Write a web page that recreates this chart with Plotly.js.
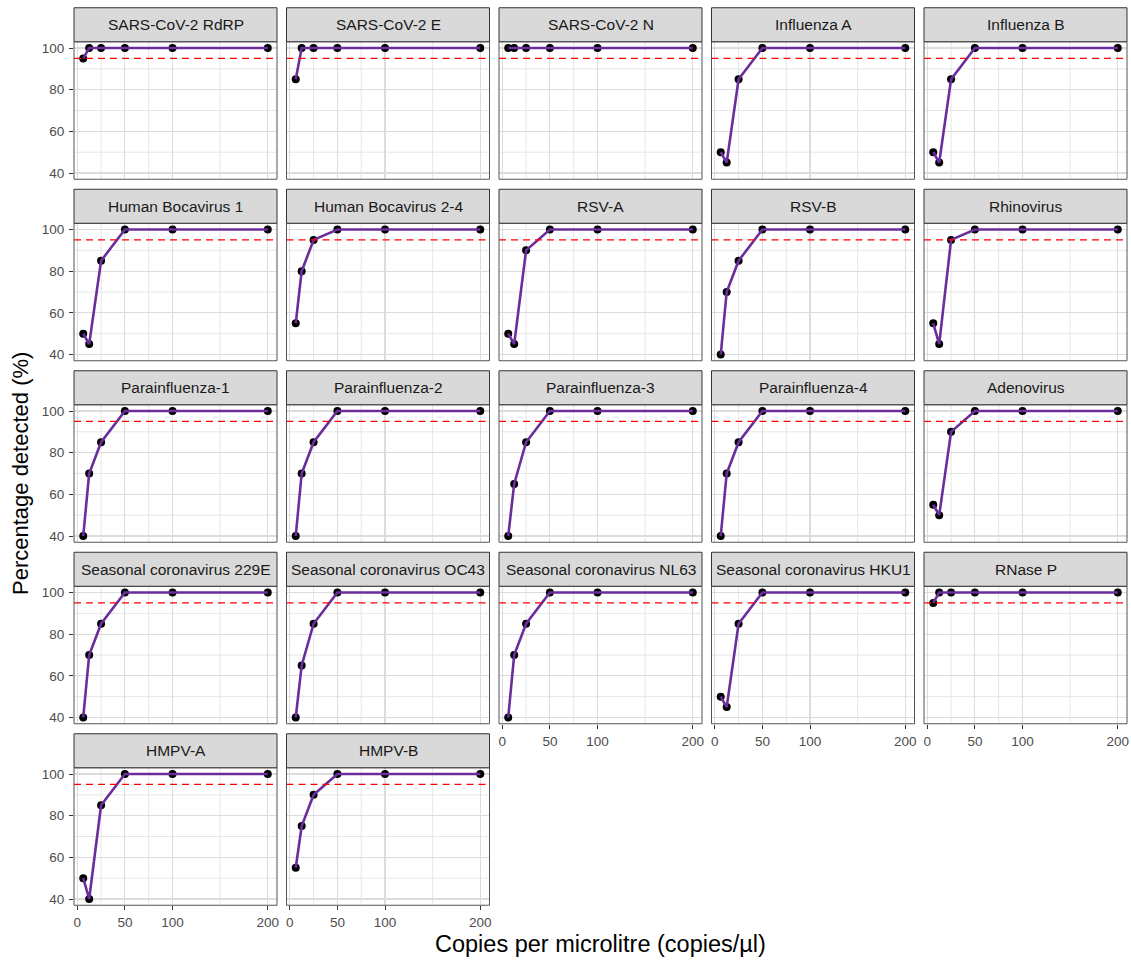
<!DOCTYPE html>
<html>
<head>
<meta charset="utf-8">
<script src="https://cdn.plot.ly/plotly-3.0.1.min.js"></script>
<style>html,body{margin:0;padding:0;background:#fff;}#chart{width:1131px;height:962px;}</style>
</head>
<body>
<div id="chart"></div>
<script>
// ---- data ----
const copies = [6.25, 12.5, 25, 50, 100, 200];
const panelNames = [
  "SARS-CoV-2 RdRP", "SARS-CoV-2 E", "SARS-CoV-2 N", "Influenza A", "Influenza B",
  "Human Bocavirus 1", "Human Bocavirus 2-4", "RSV-A", "RSV-B", "Rhinovirus",
  "Parainfluenza-1", "Parainfluenza-2", "Parainfluenza-3", "Parainfluenza-4", "Adenovirus",
  "Seasonal coronavirus 229E", "Seasonal coronavirus OC43", "Seasonal coronavirus NL63", "Seasonal coronavirus HKU1", "RNase P",
  "HMPV-A", "HMPV-B"
];
const sarsRdRP = [95, 100, 100, 100, 100, 100];
const sarsE    = [85, 100, 100, 100, 100, 100];
const sarsN    = [100, 100, 100, 100, 100, 100];
const fluA     = [50, 45, 85, 100, 100, 100];
const fluB     = [50, 45, 85, 100, 100, 100];
const boca1    = [50, 45, 85, 100, 100, 100];
const boca24   = [55, 80, 95, 100, 100, 100];
const rsvA     = [50, 45, 90, 100, 100, 100];
const rsvB     = [40, 70, 85, 100, 100, 100];
const rhino    = [55, 45, 95, 100, 100, 100];
const para1    = [40, 70, 85, 100, 100, 100];
const para2    = [40, 70, 85, 100, 100, 100];
const para3    = [40, 65, 85, 100, 100, 100];
const para4    = [40, 70, 85, 100, 100, 100];
const adeno    = [55, 50, 90, 100, 100, 100];
const cov229E  = [40, 70, 85, 100, 100, 100];
const covOC43  = [40, 65, 85, 100, 100, 100];
const covNL63  = [40, 70, 85, 100, 100, 100];
const covHKU1  = [50, 45, 85, 100, 100, 100];
const rnaseP   = [95, 100, 100, 100, 100, 100];
const hmpvA    = [50, 40, 85, 100, 100, 100];
const hmpvB    = [55, 75, 90, 100, 100, 100];
const seriesList = [sarsRdRP, sarsE, sarsN, fluA, fluB, boca1, boca24, rsvA, rsvB, rhino,
  para1, para2, para3, para4, adeno, cov229E, covOC43, covNL63, covHKU1, rnaseP, hmpvA, hmpvB];
const threshold = 95;
const xTickVals = [0, 50, 100, 200];
const xMinorVals = [25, 75, 150];
const yTickVals = [40, 60, 80, 100];
const yMinorVals = [50, 70, 90];

// ---- layout geometry (px) ----
const W = 1131, H = 962;
const nCol = 5;
const colLeft0 = 74, colStep = 212.5, panelW = 203;
const rowTop0 = 41.75, rowStep = 181.5, panelH = 137.5, stripH = 34;
const font = "Liberation Sans, Arial, sans-serif";

const traces = [];
const layout = {
  width: W, height: H,
  margin: {l: 0, r: 0, t: 0, b: 0},
  paper_bgcolor: "#fff", plot_bgcolor: "#fff",
  showlegend: false,
  font: {family: font},
  shapes: [], annotations: []
};

const n = panelNames.length;
for (let i = 0; i < n; i++) {
  const r = Math.floor(i / nCol), c = i % nCol;
  const left = colLeft0 + c * colStep;
  const top = rowTop0 + r * rowStep;
  const idx = i === 0 ? "" : String(i + 1);
  const xa = "x" + idx, ya = "y" + idx;
  const hasBelow = (i + nCol) < n;
  const showX = !hasBelow;
  const showY = c === 0;

  layout["xaxis" + idx] = {
    domain: [left / W, (left + panelW) / W],
    anchor: ya,
    range: [-3.4375, 209.6875],
    tickvals: xTickVals,
    ticktext: xTickVals.map(String),
    showticklabels: showX,
    ticks: showX ? "outside" : "",
    ticklen: 4, tickcolor: "#333", tickwidth: 1,
    ticklabelstandoff: 1,
    tickfont: {size: 13.5, color: "#4d4d4d", family: font},
    showgrid: true, gridcolor: "#dcdcdc", gridwidth: 1.1,
    zeroline: false, showline: false, fixedrange: true
  };
  layout["yaxis" + idx] = {
    domain: [1 - (top + panelH) / H, 1 - top / H],
    anchor: xa,
    range: [37, 103],
    tickvals: yTickVals,
    ticktext: yTickVals.map(String),
    showticklabels: showY,
    ticks: showY ? "outside" : "",
    ticklen: 4, tickcolor: "#333", tickwidth: 1,
    ticklabelstandoff: 2,
    tickfont: {size: 13.5, color: "#4d4d4d", family: font},
    showgrid: true, gridcolor: "#dcdcdc", gridwidth: 1.1,
    zeroline: false, showline: false, fixedrange: true
  };

  // minor grid lines
  xMinorVals.forEach(v => layout.shapes.push({
    type: "line", xref: xa, yref: ya + " domain", x0: v, x1: v, y0: 0, y1: 1,
    line: {color: "#e6e6e6", width: 1}, layer: "below"
  }));
  yMinorVals.forEach(v => layout.shapes.push({
    type: "line", xref: xa + " domain", yref: ya, x0: 0, x1: 1, y0: v, y1: v,
    line: {color: "#e6e6e6", width: 1}, layer: "below"
  }));

  traces.push({
    type: "scatter", mode: "markers", xaxis: xa, yaxis: ya,
    x: copies, y: seriesList[i],
    marker: {color: "#000", size: 8}, hoverinfo: "skip"
  });
  traces.push({
    type: "scatter", mode: "lines", xaxis: xa, yaxis: ya,
    x: copies, y: seriesList[i],
    line: {color: "#6b2d9b", width: 2.6}, hoverinfo: "skip"
  });

  // threshold line
  layout.shapes.push({
    type: "line", xref: xa + " domain", yref: ya,
    x0: 0, x1: 1, y0: threshold, y1: threshold,
    line: {color: "#ff0000", width: 1.3, dash: "7px,5px"}, layer: "above"
  });
  // panel border
  layout.shapes.push({
    type: "rect", xref: "paper", yref: "paper",
    x0: left / W, x1: (left + panelW) / W,
    y0: 1 - (top + panelH) / H, y1: 1 - top / H,
    line: {color: "#555", width: 1}, fillcolor: "rgba(0,0,0,0)", layer: "above"
  });
  // strip
  layout.shapes.push({
    type: "rect", xref: "paper", yref: "paper",
    x0: left / W, x1: (left + panelW) / W,
    y0: 1 - top / H, y1: 1 - (top - stripH) / H,
    line: {color: "#333", width: 1}, fillcolor: "#d9d9d9", layer: "above"
  });
  layout.annotations.push({
    xref: "paper", yref: "paper",
    x: (left + panelW / 2) / W, y: 1 - (top - stripH / 2) / H,
    text: panelNames[i], showarrow: false,
    xanchor: "center", yanchor: "middle",
    font: {size: 15.5, color: "#1a1a1a", family: font}
  });
}

// axis titles
layout.annotations.push({
  xref: "paper", yref: "paper", x: 600.5 / W, y: 1 - 944 / H,
  text: "Copies per microlitre (copies/µl)", showarrow: false,
  xanchor: "center", yanchor: "middle",
  font: {size: 23.5, color: "#000", family: font}
});
layout.annotations.push({
  xref: "paper", yref: "paper", x: 20 / W, y: 1 - 474 / H,
  text: "Percentage detected (%)", showarrow: false, textangle: -90,
  xanchor: "center", yanchor: "middle",
  font: {size: 22, color: "#000", family: font}
});

Plotly.newPlot("chart", traces, layout, {staticPlot: true, displayModeBar: false});
</script>
</body>
</html>
